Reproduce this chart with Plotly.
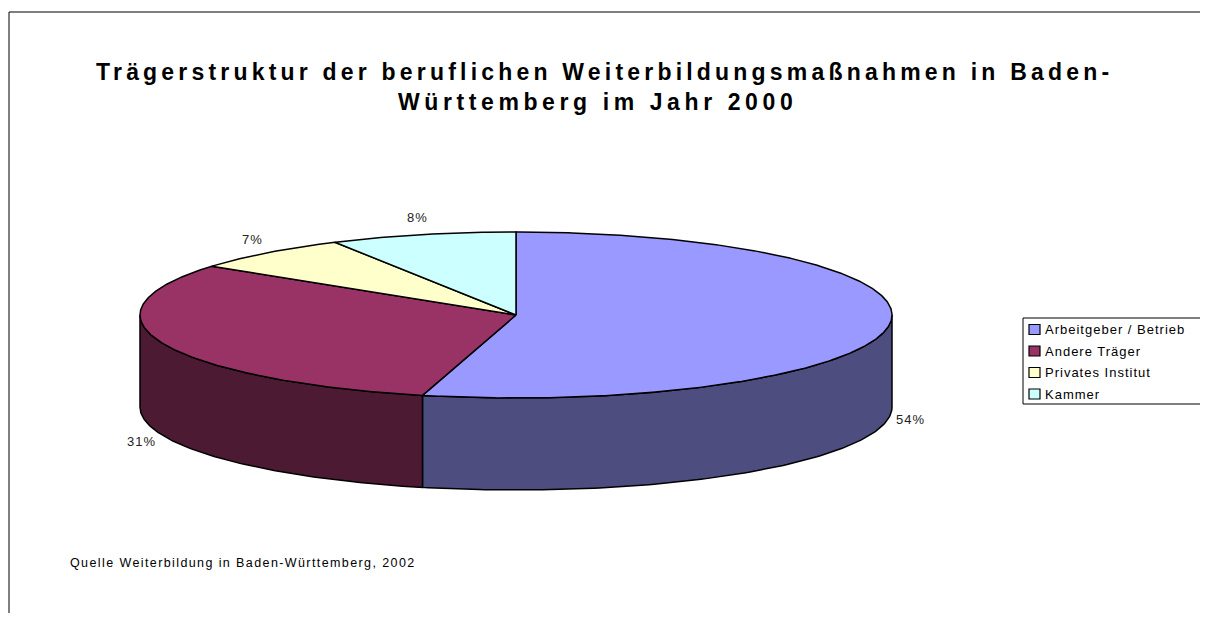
import numpy as np
import plotly.graph_objects as go

# ---------------- data ----------------
categories = ["Arbeitgeber / Betrieb", "Andere Träger", "Privates Institut", "Kammer"]
shares = [54, 31, 7, 8]
top_colors = ["#9999FF", "#993366", "#FFFFCC", "#CCFFFF"]
side_colors = ["#4D4D80", "#4D1A33", "#80806A", "#6A8080"]
title_lines = ["Trägerstruktur der beruflichen Weiterbildungsmaßnahmen in Baden-",
               "Württemberg im Jahr 2000"]
source_text = "Quelle Weiterbildung in Baden-Württemberg, 2002"

# ---------------- layout geometry (pixels) ----------------
W, H = 1208, 621
OFF = 8                    # default body margin of the html page
FW, FH = W - 2 * OFF, H - 2 * OFF   # figure size that fits the window without scrollbars
CX, CY = 516, 315          # centre of the top ellipse
RX, RY = 376, 83           # ellipse radii
DEPTH = 92                 # thickness of the pie
FONT = "Liberation Sans, Arial, sans-serif"


def spaced(txt, px):
    return f'<span style="letter-spacing:{px}px">{txt}</span>'


def ell(theta_deg, drop=0.0):
    t = np.radians(theta_deg)
    return CX + RX * np.sin(t), CY - RY * np.cos(t) + drop


total = float(sum(shares))
edges = np.concatenate([[0.0], np.cumsum(shares) / total * 360.0])

fig = go.Figure()

# side walls (front half: 90..270 degrees, clockwise from 12 o'clock)
for i, name in enumerate(categories):
    a, b = edges[i], edges[i + 1]
    lo, hi = max(a, 90.0), min(b, 270.0)
    if lo >= hi:
        continue
    ts = np.linspace(lo, hi, 120)
    xt, yt = ell(ts)
    xb, yb = ell(ts[::-1], DEPTH)
    xs = np.concatenate([xt, xb, xt[:1]])
    ys = np.concatenate([yt, yb, yt[:1]])
    fig.add_trace(go.Scatter(x=xs, y=ys, mode="lines", fill="toself",
                             fillcolor=side_colors[i],
                             line=dict(color="black", width=1.5),
                             hoverinfo="skip", showlegend=False))

# top faces
for i, name in enumerate(categories):
    a, b = edges[i], edges[i + 1]
    ts = np.linspace(a, b, max(20, int((b - a) * 2)))
    xa, ya = ell(ts)
    xs = np.concatenate([[CX], xa, [CX]])
    ys = np.concatenate([[CY], ya, [CY]])
    fig.add_trace(go.Scatter(x=xs, y=ys, mode="lines", fill="toself",
                             fillcolor=top_colors[i],
                             line=dict(color="black", width=1.5),
                             name=name, hoverinfo="skip", showlegend=False))

annotations = []
# percentage labels
for i, v in enumerate(shares):
    mid = (edges[i] + edges[i + 1]) / 2.0
    t = np.radians(mid)
    front = 90.0 < mid < 270.0
    lx = CX + (RX + 22) * np.sin(t)
    ly = CY - (RY + 18) * np.cos(t) + (DEPTH if front else 0)
    annotations.append(dict(x=lx, y=ly, xref="x", yref="y",
                            text=spaced(f"{round(v / total * 100)}%", 1),
                            showarrow=False,
                            font=dict(family=FONT, size=13, color="#222222"),
                            xanchor="center", yanchor="middle"))

# title
annotations.append(dict(x=604, y=72, xref="x", yref="y",
                        text="<b>" + spaced(title_lines[0], 4.2) + "</b>",
                        showarrow=False, xanchor="center", yanchor="middle",
                        font=dict(family=FONT, size=23, color="black")))
annotations.append(dict(x=597, y=102, xref="x", yref="y",
                        text="<b>" + spaced(title_lines[1], 4.6) + "</b>",
                        showarrow=False, xanchor="center", yanchor="middle",
                        font=dict(family=FONT, size=23, color="black")))

# source note
annotations.append(dict(x=68, y=563, xref="x", yref="y", text=spaced(source_text, 1.4),
                        showarrow=False, xanchor="left", yanchor="middle",
                        font=dict(family=FONT, size=12.5, color="black")))

shapes = []
# outer frame (top and left edges visible)
shapes.append(dict(type="line", xref="x", yref="y", x0=9, y0=12, x1=W + 60, y1=12,
                   line=dict(color="black", width=1)))
shapes.append(dict(type="line", xref="x", yref="y", x0=9, y0=12, x1=9, y1=H + 60,
                   line=dict(color="black", width=1)))
# legend box
LX0, LY0, LX1, LY1 = 1023, 318, 1205, 404
shapes.append(dict(type="rect", xref="x", yref="y", x0=LX0, y0=LY0, x1=LX1, y1=LY1,
                   line=dict(color="black", width=1), fillcolor="white"))
row_y0, row_dy = 329.5, 21.5
for i, name in enumerate(categories):
    yc = row_y0 + i * row_dy
    shapes.append(dict(type="rect", xref="x", yref="y", x0=1029, y0=yc - 5, x1=1040, y1=yc + 5,
                       line=dict(color="black", width=1.2), fillcolor=top_colors[i]))
    annotations.append(dict(x=1043, y=yc, xref="x", yref="y", text=spaced(name, 1),
                            showarrow=False, xanchor="left", yanchor="middle",
                            font=dict(family=FONT, size=13, color="black")))

fig.update_layout(
    width=FW, height=FH, margin=dict(l=0, r=0, t=0, b=0),
    paper_bgcolor="white", plot_bgcolor="white",
    xaxis=dict(range=[OFF, FW + OFF], visible=False, fixedrange=True),
    yaxis=dict(range=[FH + OFF, OFF], visible=False, fixedrange=True),
    annotations=annotations, shapes=shapes, showlegend=False,
)

fig.write_html("out.html")
